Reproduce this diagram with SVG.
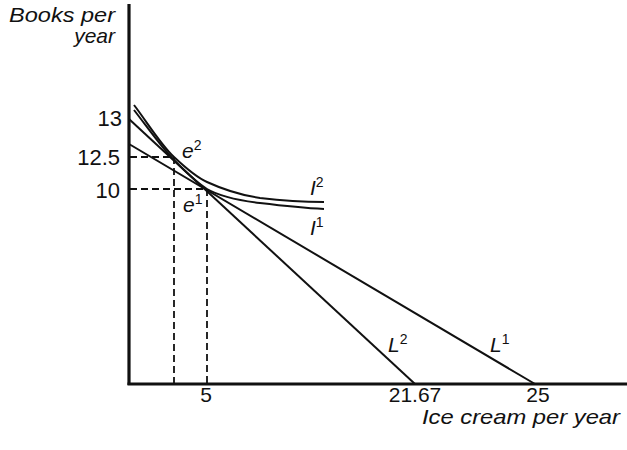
<svg xmlns="http://www.w3.org/2000/svg" width="627" height="450" viewBox="0 0 627 450">
<style>
.t{font-family:"Liberation Sans",Arial,sans-serif;font-size:22px;fill:#111}
.b{font-size:21px}
.i{font-family:"Liberation Sans",Arial,sans-serif;font-size:21px;font-style:italic;fill:#111}
.sup{font-size:14px;font-style:normal}
.ax{stroke:#111;stroke-width:3.2;fill:none}
.ln{stroke:#111;stroke-width:2;fill:none}
.ds{stroke:#111;stroke-width:1.8;fill:none;stroke-dasharray:7 4}
</style>
<rect width="627" height="450" fill="#fff"/>
<g id="axes">
<line class="ax" x1="129" y1="4" x2="129" y2="385"/>
<line class="ax" x1="127.5" y1="384" x2="627" y2="384"/>
</g>
<g id="connectors">
<path id="dash-e2" class="ds" d="M130,157 H174 V384"/>
<path id="dash-e1" class="ds" d="M130,189 H207 V384"/>
<line id="L1" class="ln" x1="129" y1="144" x2="535" y2="384"/>
<line id="L2" class="ln" x1="129" y1="119" x2="415" y2="384"/>
<path id="I2" class="ln" d="M134,105 C147,122 161,145 174,157 C190,172 198,178 207,182 C220,188 240,195 260,198 C285,201 305,202 324,202"/>
<path id="I1" class="ln" d="M134,110 C148,128 162,148 174,160 C186,172 196,182.5 207,189 C219,196 235,200 260,203 C285,206 305,208 324,209"/>
</g>
<g id="axis-labels">
<text class="i" x="9" y="22" textLength="106" lengthAdjust="spacingAndGlyphs">Books per</text>
<text class="i" x="115" y="43" text-anchor="end">year</text>
<text class="i" x="422" y="424" textLength="198" lengthAdjust="spacingAndGlyphs">Ice cream per year</text>
</g>
<g id="ticks">
<text class="t" x="122" y="126" text-anchor="end">13</text>
<text class="t" x="120" y="165" text-anchor="end">12.5</text>
<text class="t" x="120" y="198" text-anchor="end">10</text>
<text class="t b" x="206" y="402" text-anchor="middle">5</text>
<text class="t b" x="415" y="402" text-anchor="middle">21.67</text>
<text class="t b" x="538" y="402" text-anchor="middle">25</text>
</g>
<g id="point-labels">
<text class="i" x="182" y="158">e<tspan class="sup" dy="-8">2</tspan></text>
<text class="i" x="183" y="212">e<tspan class="sup" dy="-8">1</tspan></text>
<text class="i" x="310" y="195">I<tspan class="sup" dy="-8">2</tspan></text>
<text class="i" x="310" y="235">I<tspan class="sup" dy="-8">1</tspan></text>
<text class="i" x="388" y="352">L<tspan class="sup" dy="-8">2</tspan></text>
<text class="i" x="490" y="352">L<tspan class="sup" dy="-8">1</tspan></text>
</g>
</svg>
